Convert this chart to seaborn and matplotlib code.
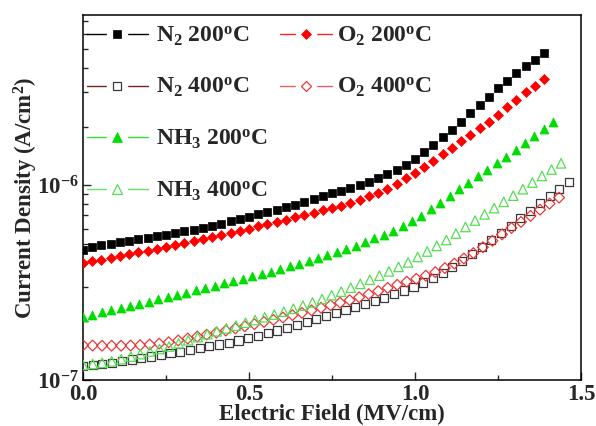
import numpy as np
import pandas as pd
import matplotlib
matplotlib.use("Agg")
import matplotlib.pyplot as plt
import seaborn as sns
from matplotlib.lines import Line2D
from matplotlib.legend_handler import HandlerTuple
from matplotlib.ticker import FixedLocator, FixedFormatter, LogLocator, NullFormatter, MultipleLocator

# ---------------- data (current density in units of 1e-7 A/cm^2) ----------------
series_names = ["N2 200", "N2 400", "O2 200", "O2 400", "NH3 200", "NH3 400"]
legend_labels = [r"N$_2$ 200$^{o}$C", r"N$_2$ 400$^{o}$C", r"O$_2$ 200$^{o}$C",
                 r"O$_2$ 400$^{o}$C", r"NH$_3$ 200$^{o}$C", r"NH$_3$ 400$^{o}$C"]
# field step between successive measurement points (MV/cm)
field_step = [0.02778, 0.02928, 0.02778, 0.02868, 0.02832, 0.02880]

n2_200 = [4.677, 4.808, 4.909, 5.012, 5.105, 5.200, 5.284, 5.383, 5.483, 5.585,
          5.702, 5.808, 5.929, 6.053, 6.194, 6.353, 6.531, 6.714, 6.902, 7.096,
          7.295, 7.499, 7.727, 7.962, 8.204, 8.472, 8.790, 9.099, 9.376, 9.705,
          10.05, 10.42, 10.86, 11.40, 12.02, 12.74, 13.71, 14.86, 16.18, 17.62,
          19.32, 21.23, 23.44, 25.82, 28.51, 31.48, 34.51, 37.67, 40.93, 44.26,
          47.86]
n2_400 = [1.180, 1.191, 1.208, 1.227, 1.250, 1.274, 1.297, 1.321, 1.346, 1.374,
          1.400, 1.429, 1.459, 1.489, 1.521, 1.556, 1.596, 1.641, 1.687, 1.738,
          1.795, 1.854, 1.919, 1.986, 2.056, 2.128, 2.203, 2.280, 2.366, 2.455,
          2.547, 2.649, 2.761, 2.884, 3.020, 3.170, 3.334, 3.540, 3.793, 4.074,
          4.436, 4.819, 5.248, 5.702, 6.209, 6.761, 7.396, 8.091, 8.790, 9.550,
          10.45]
o2_200 = [3.981, 4.064, 4.150, 4.236, 4.335, 4.426, 4.519, 4.624, 4.732, 4.831,
          4.943, 5.058, 5.176, 5.297, 5.420, 5.559, 5.702, 5.848, 5.998, 6.152,
          6.310, 6.471, 6.653, 6.839, 7.031, 7.228, 7.430, 7.638, 7.870, 8.147,
          8.453, 8.790, 9.162, 9.616, 10.19, 10.86, 11.64, 12.42, 13.34, 14.45,
          15.60, 16.83, 18.11, 19.59, 21.04, 22.96, 25.18, 27.54, 30.06, 32.51,
          35.16]
o2_400 = [1.507, 1.503, 1.500, 1.500, 1.500, 1.503, 1.510, 1.521, 1.538, 1.563,
          1.596, 1.633, 1.671, 1.710, 1.750, 1.795, 1.841, 1.888, 1.936, 1.986,
          2.037, 2.094, 2.153, 2.213, 2.280, 2.350, 2.421, 2.495, 2.570, 2.661,
          2.761, 2.864, 2.972, 3.083, 3.199, 3.311, 3.436, 3.581, 3.758, 3.963,
          4.207, 4.487, 4.808, 5.188, 5.598, 6.039, 6.486, 6.966, 7.499, 8.054,
          8.650]
nh3_200 = [2.104, 2.163, 2.223, 2.286, 2.344, 2.404, 2.466, 2.529, 2.594, 2.661,
           2.729, 2.805, 2.884, 2.965, 3.048, 3.133, 3.221, 3.311, 3.404, 3.499,
           3.606, 3.715, 3.837, 3.963, 4.093, 4.227, 4.375, 4.539, 4.710, 4.898,
           5.105, 5.333, 5.585, 5.861, 6.166, 6.531, 6.950, 7.534, 8.147, 8.810,
           9.528, 10.30, 11.14, 12.05, 13.00, 14.03, 15.14, 16.44, 17.86, 19.41,
           21.04]
nh3_400 = [1.194, 1.208, 1.225, 1.247, 1.279, 1.318, 1.358, 1.400, 1.442, 1.486,
           1.542, 1.600, 1.660, 1.718, 1.778, 1.841, 1.901, 1.968, 2.032, 2.099,
           2.168, 2.244, 2.323, 2.410, 2.500, 2.606, 2.723, 2.844, 2.979, 3.119,
           3.273, 3.436, 3.614, 3.811, 4.018, 4.285, 4.571, 4.887, 5.236, 5.649,
           6.109, 6.592, 7.096, 7.638, 8.222, 8.851, 9.550, 10.33, 11.17, 12.05,
           12.97]
series_values = [n2_200, n2_400, o2_200, o2_400, nh3_200, nh3_400]
unit = 1e-7

# ---------------- style ----------------
sns.set_style("ticks")
plt.rcParams["font.family"] = ["Liberation Serif", "DejaVu Serif"]
plt.rcParams["font.weight"] = "bold"
plt.rcParams["axes.labelweight"] = "bold"
plt.rcParams["mathtext.fontset"] = "custom"
plt.rcParams["mathtext.rm"] = "Liberation Serif:bold"
plt.rcParams["mathtext.it"] = "Liberation Serif:bold"
plt.rcParams["mathtext.bf"] = "Liberation Serif:bold"

styles = [
    dict(marker="s", fc="black", ec="black", s=30, lw=0.5),
    dict(marker="s", fc="none", ec="#3a3a3a", s=34, lw=0.9),
    dict(marker="D", fc="#ff0000", ec="#ff0000", s=26, lw=0.5),
    dict(marker="D", fc="none", ec="#e8383a", s=30, lw=0.9),
    dict(marker="^", fc="#00dd00", ec="#00dd00", s=42, lw=0.5),
    dict(marker="^", fc="none", ec="#55dd55", s=46, lw=0.9),
]
legend_line_colors = ["black", "#7a2020", "#ff2020", "#e86060", "#33dd33", "#66e066"]

rows = []
for name, step, vals in zip(series_names, field_step, series_values):
    for i, v in enumerate(vals):
        rows.append((name, i * step, v * unit))
df = pd.DataFrame(rows, columns=["series", "field", "J"])

fig = plt.figure(figsize=(5.96, 4.26), dpi=100)
ax = fig.add_axes([83 / 596, 1 - 380 / 426, (581 - 83) / 596, (380 - 15) / 426])

for name, st in zip(series_names, styles):
    sub = df[df["series"] == name]
    sns.scatterplot(data=sub, x="field", y="J", marker=st["marker"], s=st["s"],
                    facecolor=st["fc"], edgecolor=st["ec"], linewidth=st["lw"],
                    ax=ax, legend=False, zorder=3)

ax.set_yscale("log")
ax.set_xlim(0, 1.5)
ax.set_ylim(1e-7, 7.5e-6)

ax.xaxis.set_major_locator(MultipleLocator(0.5))
ax.xaxis.set_minor_locator(MultipleLocator(0.25))
ax.yaxis.set_major_locator(FixedLocator([1e-7, 1e-6]))
ax.yaxis.set_major_formatter(FixedFormatter([r"$10^{-7}$", r"$10^{-6}$"]))
ax.yaxis.set_minor_locator(LogLocator(base=10, subs=np.arange(2, 10)))
ax.yaxis.set_minor_formatter(NullFormatter())

ax.tick_params(which="both", direction="in", top=False, right=False, labelsize=16.5, width=1.0)
ax.tick_params(which="major", length=6, pad=3)
ax.tick_params(which="minor", length=3.5)
for lab in ax.get_xticklabels() + ax.get_yticklabels():
    lab.set_fontweight("bold")
for sp in ax.spines.values():
    sp.set_linewidth(1.1)
    sp.set_color("black")

ax.set_xlabel("Electric Field (MV/cm)", fontsize=16.5, fontweight="bold", labelpad=-1)
ax.set_ylabel(r"Current Density (A/cm$^2$)", fontsize=16.5, fontweight="bold", labelpad=-2.5)

# legend (two columns drawn as two legends so each can have its own handle length)
handles = []
for st, lc in zip(styles, legend_line_colors):
    line = Line2D([], [], color=lc, lw=1.0)
    gap = Line2D([], [], marker="s", ms=15, color="white", mec="white", ls="none")
    face = st["fc"] if st["fc"] != "none" else "white"
    mk = Line2D([], [], marker=st["marker"], ms=np.sqrt(st["s"]) * 1.0, mfc=face,
                mec=st["ec"], mew=st["lw"], ls="none")
    handles.append((line, gap, mk))

common = dict(handler_map={tuple: HandlerTuple(ndivide=1)}, loc="upper left",
              frameon=False, fontsize=17, labelspacing=1.2, borderaxespad=0,
              borderpad=0, numpoints=1)
col1 = [0, 1, 4, 5]
col2 = [2, 3]
leg1 = ax.legend([handles[i] for i in col1], [legend_labels[i] for i in col1],
                 bbox_to_anchor=(0.008, 0.974), handlelength=2.58, handletextpad=0.34, **common)
ax.add_artist(leg1)
ax.legend([handles[i] for i in col2], [legend_labels[i] for i in col2],
          bbox_to_anchor=(0.396, 0.974), handlelength=2.2, handletextpad=0.22, **common)

fig.savefig("out.png", dpi=100)
